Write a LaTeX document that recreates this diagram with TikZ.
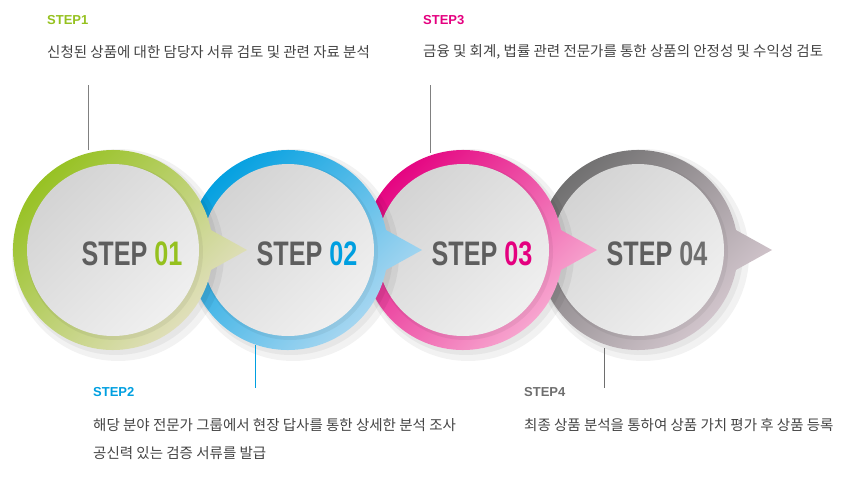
\documentclass[tikz,border=0pt]{standalone}
\usepackage{fontspec}
\setmainfont{Liberation Sans}
\newfontfamily\kr{Noto Sans CJK KR}
\usepackage{graphicx}
\definecolor{gA}{HTML}{95C11F}\definecolor{gB}{HTML}{E8E2CC}
\definecolor{bA}{HTML}{009FE0}\definecolor{bB}{HTML}{B8DCF2}
\definecolor{mA}{HTML}{E4007F}\definecolor{mB}{HTML}{F9B8D8}
\definecolor{kA}{HTML}{6E6E6E}\definecolor{kB}{HTML}{DCCED6}
\definecolor{txt}{HTML}{444444}
\tikzset{
 steplabel/.style={font=\bfseries\fontsize{13}{15}\selectfont, anchor=west, inner sep=0},
 desc/.style={font=\kr\fontsize{14.5}{16}\selectfont, text=txt, anchor=west, inner sep=0},
 leader/.style={draw=#1, line width=0.6pt},
 big/.style={font=\bfseries\fontsize{34}{36}\selectfont, inner sep=0}
}
\newcommand{\stepring}[5]{%
 \fill[black,opacity=0.05] (#1+5,-255) circle (106);
 \fill[black,opacity=0.05] (#1+3,-253) circle (102);
 \shade[top color=#2, bottom color=#3, shading angle=45]
   (#1,-250) ++(11.5:100) arc (11.5:348.5:100) -- (#1+134,-250) -- cycle;
 \fill[black,opacity=0.05] (#1+2,-252) circle (88);
 \shade[top color=black!17, bottom color=black!6, shading angle=45] (#1,-250) circle (86);
 \node[big] (#4) at (#1+19,-254) {\scalebox{0.74}[1]{\color{kA!85!black}STEP \color{#2}#5}};
}
\begin{document}
\begin{tikzpicture}[x=1pt,y=1pt]
\useasboundingbox (0,0) rectangle (856,-479);
\stepring{638}{kA}{kB}{s4}{04}
\stepring{463}{mA}{mB}{s3}{03}
\stepring{288}{bA}{bB}{s2}{02}
\stepring{113}{gA}{gB}{s1}{01}
% labels
\node[steplabel,text=gA] (l1) at (47,-20) {STEP1};
\node[desc] (d1) at (47,-52) {신청된 상품에 대한 담당자 서류 검토 및 관련 자료 분석};
\coordinate (c1a) at (88,-85); \coordinate (c1b) at (88,-150);
\draw[leader=gray] (c1a) -- (c1b);
\node[steplabel,text=mA] (l3) at (423,-20) {STEP3};
\node[desc] (d3) at (423,-52) {금융 및 회계, 법률 관련 전문가를 통한 상품의 안정성 및 수익성 검토};
\coordinate (c3a) at (430,-85); \coordinate (c3b) at (430,-153);
\draw[leader=gray] (c3a) -- (c3b);
\node[steplabel,text=bA] (l2) at (93,-392) {STEP2};
\node[desc] (d2) at (93,-425) {해당 분야 전문가 그룹에서 현장 답사를 통한 상세한 분석 조사};
\node[desc] (d2b) at (93,-453) {공신력 있는 검증 서류를 발급};
\coordinate (c2a) at (255,-345); \coordinate (c2b) at (255,-388);
\draw[leader=bA] (c2a) -- (c2b);
\node[steplabel,text=kA] (l4) at (524,-392) {STEP4};
\node[desc] (d4) at (524,-425) {최종 상품 분석을 통하여 상품 가치 평가 후 상품 등록};
\coordinate (c4a) at (604,-348); \coordinate (c4b) at (604,-388);
\draw[leader=kA] (c4a) -- (c4b);
\end{tikzpicture}
\end{document}
